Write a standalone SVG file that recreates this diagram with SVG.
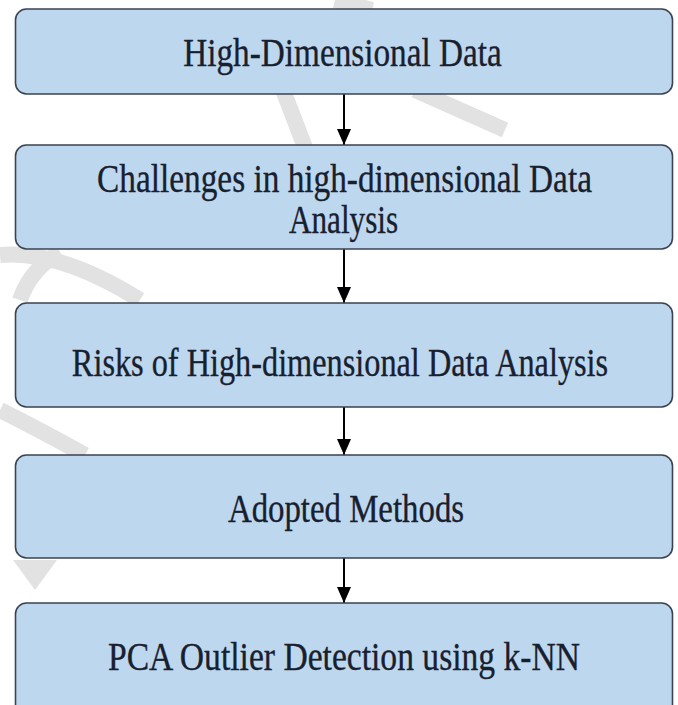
<svg xmlns="http://www.w3.org/2000/svg" width="678" height="705" viewBox="0 0 678 705">
  <style>
    .box { fill: #bdd7ee; stroke: #3b4250; stroke-width: 1.6; }
    .lbl { font-family: "Liberation Serif", "Times New Roman", serif; font-size: 41px; fill: #18202e; stroke: #18202e; stroke-width: 0.35; text-anchor: middle; }
    .conn { stroke: #000; stroke-width: 2; fill: none; }
    .wm { stroke: #e2e2e2; stroke-width: 16; fill: none; stroke-linecap: butt; }
  </style>
  <defs>
    <marker id="arrow" markerUnits="userSpaceOnUse" markerWidth="16" markerHeight="14" refX="16" refY="7" orient="auto" viewBox="0 0 16 14">
      <path d="M0,0 L16,7 L0,14 Z" fill="#000"/>
    </marker>
  </defs>
  <rect width="678" height="705" fill="#fff"/>
  <g id="watermark">
    <path class="wm" d="M283,90 L306,150"/>
    <path class="wm" d="M415,90 L505,130"/>
    <path class="wm" d="M335,0 L372,10"/>
    <path class="wm" d="M0,255 Q60,250 140,300"/>
    <path class="wm" d="M20,300 Q30,270 60,252"/>
    <path class="wm" d="M0,410 Q40,430 85,455"/>
    <path d="M13,560 L57,560 L35,590 Z" fill="#e2e2e2"/>
  </g>
  <g id="connectors">
    <line class="conn" x1="344" y1="94" x2="344" y2="145" marker-end="url(#arrow)"/>
    <line class="conn" x1="344" y1="249" x2="344" y2="303" marker-end="url(#arrow)"/>
    <line class="conn" x1="344" y1="407" x2="344" y2="455" marker-end="url(#arrow)"/>
    <line class="conn" x1="344" y1="558" x2="344" y2="603" marker-end="url(#arrow)"/>
  </g>
  <g id="n1">
    <rect class="box" x="15.5" y="9" width="657" height="85" rx="11"/>
    <g transform="translate(342.5,0) scale(0.832,1)">
      <text class="lbl" x="0" y="66" textLength="383" lengthAdjust="spacingAndGlyphs">High-Dimensional Data</text>
    </g>
  </g>
  <g id="n2">
    <rect class="box" x="15.5" y="145" width="657" height="104" rx="11"/>
    <g transform="translate(344.5,0) scale(0.833,1)">
      <text class="lbl" x="0" y="192" textLength="594" lengthAdjust="spacingAndGlyphs">Challenges in high-dimensional Data</text>
    </g>
    <g transform="translate(343.5,0) scale(0.78,1)">
      <text class="lbl" x="0" y="233" textLength="140" lengthAdjust="spacingAndGlyphs">Analysis</text>
    </g>
  </g>
  <g id="n3">
    <rect class="box" x="15.5" y="303" width="657" height="104" rx="11"/>
    <g transform="translate(340,0) scale(0.804,1)">
      <text class="lbl" x="0" y="376" textLength="667" lengthAdjust="spacingAndGlyphs">Risks of High-dimensional Data Analysis</text>
    </g>
  </g>
  <g id="n4">
    <rect class="box" x="15.5" y="455" width="657" height="103" rx="11"/>
    <g transform="translate(346,0) scale(0.82,1)">
      <text class="lbl" x="0" y="522" textLength="288" lengthAdjust="spacingAndGlyphs">Adopted Methods</text>
    </g>
  </g>
  <g id="n5">
    <rect class="box" x="15.5" y="603" width="657" height="120" rx="11"/>
    <g transform="translate(344,0) scale(0.837,1)">
      <text class="lbl" x="0" y="670" textLength="564" lengthAdjust="spacingAndGlyphs">PCA Outlier Detection using k-NN</text>
    </g>
  </g>
</svg>
